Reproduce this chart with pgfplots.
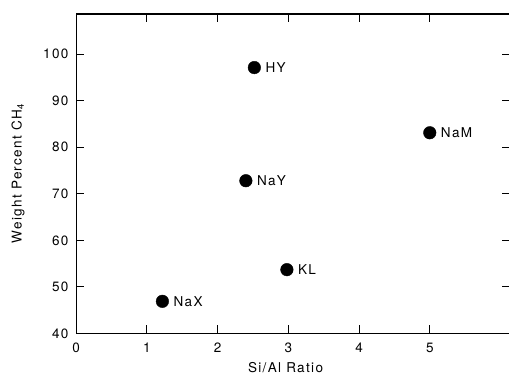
\documentclass[border=0pt]{standalone}
\usepackage{fontspec}
\setmainfont{TeX Gyre Heros}[LetterSpace=10]
\usepackage{pgfplots}
\pgfplotsset{compat=1.18}
\begin{document}
\fontsize{13.5bp}{16bp}\selectfont
\begin{tikzpicture}
\begin{axis}[
  scale only axis,
  width=433bp, height=319bp,
  xmin=0, xmax=6.13, ymin=40, ymax=108.6,
  xtick={0,1,2,3,4,5}, ytick={40,50,60,70,80,90,100},
  tick align=inside,
  major tick length=8bp,
  axis line style={line width=1.2pt},
  every tick/.style={black, line width=0.9pt},
  /pgf/number format/assume math mode=true,
  xticklabel style={yshift=-5bp},
  yticklabel style={xshift=-3bp},
  xlabel={Si/Al Ratio},
  ylabel={Weight Percent CH\textsubscript{4}},
  xlabel style={at={(rel axis cs:0.483,0)}, anchor=base, yshift=-39bp},
  ylabel style={at={(rel axis cs:0,0.5)}, anchor=center, yshift=58bp},
  clip=false,
]
\addplot[only marks, mark=*, mark size=6.3bp, black, fill=black,
  nodes near coords, point meta=explicit symbolic,
  nodes near coords style={anchor=west, xshift=11bp, inner sep=0pt, black}]
  table[meta=label]{
x y label
1.22 46.9 NaX
2.40 72.8 NaY
2.52 97.1 HY
2.98 53.7 KL
5.00 83.1 NaM
};
\end{axis}
\pgfresetboundingbox
\path ([shift={(-76bp,-41bp)}]current axis.south west) rectangle ([shift={(-0.7bp,14bp)}]current axis.north east);
\end{tikzpicture}
\end{document}
